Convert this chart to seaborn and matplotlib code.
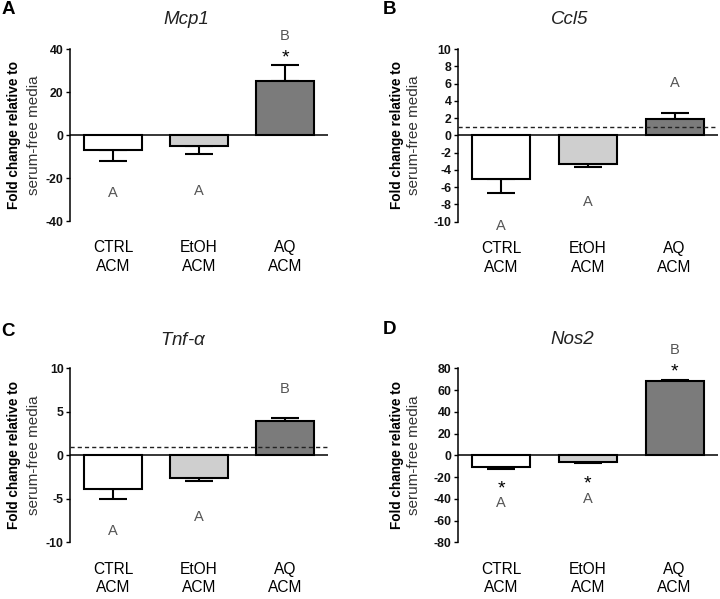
import numpy as np
import pandas as pd
import matplotlib
matplotlib.use('Agg')
import matplotlib.pyplot as plt
import seaborn as sns

# groups and colours
groups = ['CTRL\nACM', 'EtOH\nACM', 'AQ\nACM']
bar_colors = ['#ffffff', '#cfcfcf', '#7b7b7b']

# panel A - Mcp1
mcp1_mean = [-7.1, -5.1, 25.3]
mcp1_err = [5.0, 3.7, 7.1]
mcp1_letters = ['A', 'A', 'B']
mcp1_letter_y = [-26.5, -25.6, 46.5]
mcp1_star_y = [np.nan, np.nan, 38.6]
mcp1_ticks = [-40, -20, 0, 20, 40]

# panel B - Ccl5
ccl5_mean = [-5.0, -3.35, 1.85]
ccl5_err = [1.7, 0.35, 0.75]
ccl5_letters = ['A', 'A', 'A']
ccl5_letter_y = [-10.3, -7.6, 6.2]
ccl5_star_y = [np.nan, np.nan, np.nan]
ccl5_ticks = [-10, -8, -6, -4, -2, 0, 2, 4, 6, 8, 10]

# panel C - Tnf-alpha
tnf_mean = [-3.9, -2.65, 3.9]
tnf_err = [1.1, 0.35, 0.35]
tnf_letters = ['A', 'A', 'B']
tnf_letter_y = [-8.5, -7.0, 7.75]
tnf_star_y = [np.nan, np.nan, np.nan]
tnf_ticks = [-10, -5, 0, 5, 10]

# panel D - Nos2
nos2_mean = [-10.5, -6.6, 68.3]
nos2_err = [2.0, 0.9, 1.1]
nos2_letters = ['A', 'A', 'B']
nos2_letter_y = [-42.7, -39.0, 97.6]
nos2_star_y = [-25.0, -20.7, 82.6]
nos2_ticks = [-80, -60, -40, -20, 0, 20, 40, 60, 80]

sns.set_style('ticks')
plt.rcParams['font.family'] = ['Liberation Sans', 'DejaVu Sans']
plt.rcParams['axes.unicode_minus'] = False
plt.rcParams['mathtext.fontset'] = 'custom'
plt.rcParams['mathtext.it'] = 'Liberation Sans:italic'

W, H = 720, 599
fig = plt.figure(figsize=(7.2, 5.99), dpi=100)


def px(x0, y0, x1, y1):
    return [x0 / W, 1 - y1 / H, (x1 - x0) / W, (y1 - y0) / H]


panels = [
    dict(tag='A', gene='Mcp1', mean=mcp1_mean, err=mcp1_err, letters=mcp1_letters,
         letter_y=mcp1_letter_y, star_y=mcp1_star_y, ticks=mcp1_ticks, dashed=False,
         rect=px(70, 49, 328, 221), title_xy=(186, 20), tag_xy=(8.5, 10), lab_x=(14, 33.5), mid_y=135),
    dict(tag='B', gene='Ccl5', mean=ccl5_mean, err=ccl5_err, letters=ccl5_letters,
         letter_y=ccl5_letter_y, star_y=ccl5_star_y, ticks=ccl5_ticks, dashed=True,
         rect=px(457.7, 49, 718, 221.7), title_xy=(570, 20), tag_xy=(389.5, 10), lab_x=(397.5, 414), mid_y=135),
    dict(tag='C', gene='Tnf-$\\mathit{\\alpha}$', mean=tnf_mean, err=tnf_err, letters=tnf_letters,
         letter_y=tnf_letter_y, star_y=tnf_star_y, ticks=tnf_ticks, dashed=True,
         rect=px(70, 368.3, 328, 542.3), title_xy=(183, 341), tag_xy=(8.5, 332), lab_x=(14, 33.5), mid_y=455),
    dict(tag='D', gene='Nos2', mean=nos2_mean, err=nos2_err, letters=nos2_letters,
         letter_y=nos2_letter_y, star_y=nos2_star_y, ticks=nos2_ticks, dashed=False,
         rect=px(457.7, 368.3, 718, 542.3), title_xy=(572, 340), tag_xy=(389.5, 330), lab_x=(397.5, 414), mid_y=455),
]

for p in panels:
    ax = fig.add_axes(p['rect'])
    df = pd.DataFrame({'group': groups, 'value': p['mean']})
    sns.barplot(data=df, x='group', y='value', hue='group', palette=bar_colors,
                width=0.67, edgecolor='black', linewidth=1.5, legend=False,
                errorbar=None, ax=ax, zorder=2)
    xs = np.arange(len(groups))
    mean = np.array(p['mean'])
    err = np.array(p['err'])
    lower = np.where(mean < 0, err, 0)
    upper = np.where(mean >= 0, err, 0)
    ax.errorbar(xs, mean, yerr=[lower, upper], fmt='none', ecolor='black',
                elinewidth=1.5, capsize=10, capthick=1.5, zorder=1)
    ax.axhline(0, color='black', lw=1.1, zorder=3)
    if p['dashed']:
        ax.axhline(1, color='#222222', lw=1.0, ls=(0, (3, 2.2)), zorder=4)

    ax.set_xlim(-0.5, 2.5)
    ax.set_ylim(p['ticks'][0], p['ticks'][-1])
    ax.set_yticks(p['ticks'])
    ax.set_xlabel('')
    ax.set_ylabel('')
    for s in ['top', 'right', 'bottom']:
        ax.spines[s].set_visible(False)
    ax.spines['left'].set_linewidth(1.1)
    ax.spines['left'].set_color('black')
    ax.tick_params(axis='y', length=3, width=1.0, pad=1.5, labelsize=8.8,
                   labelcolor='#111111', color='black')
    for lab in ax.get_yticklabels():
        lab.set_fontweight('bold')
    ax.tick_params(axis='x', length=0, pad=14, labelsize=11.2, labelcolor='black')
    for lab in ax.get_xticklabels():
        lab.set_linespacing(1.3)

    for x, t, ly in zip(xs, p['letters'], p['letter_y']):
        ax.annotate(t, (x, ly), xytext=(0, -3.8), textcoords='offset points',
                    ha='center', va='baseline', fontsize=10.5, color='#555555',
                    annotation_clip=False)
    for x, sy in zip(xs, p['star_y']):
        if not np.isnan(sy):
            ax.annotate('*', (x, sy), xytext=(0, -7.6), textcoords='offset points',
                        ha='center', va='baseline', fontsize=14, color='black',
                        annotation_clip=False)

    tx, ty = p['title_xy']
    fig.text(tx / W, 1 - ty / H, p['gene'], ha='center', va='center',
             fontsize=13.5, style='italic', color='#222222')
    gx, gy = p['tag_xy']
    fig.text(gx / W, 1 - gy / H, p['tag'], ha='center', va='center',
             fontsize=13.5, weight='bold', color='black')
    l1, l2 = p['lab_x']
    fig.text(l1 / W, 1 - p['mid_y'] / H, 'Fold change relative to', rotation=90,
             ha='center', va='center', fontsize=9.8, weight='bold', color='black')
    fig.text(l2 / W, 1 - p['mid_y'] / H, 'serum-free media', rotation=90,
             ha='center', va='center', fontsize=11, color='#333333')

fig.savefig('out.png', dpi=100, facecolor='white')
